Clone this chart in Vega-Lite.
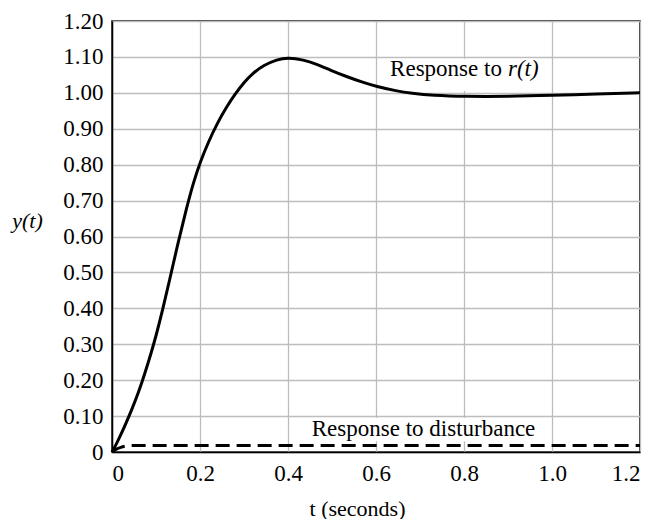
{
  "$schema": "https://vega.github.io/schema/vega-lite/v6.json",
  "width": 528,
  "height": 431,
  "autosize": "none",
  "padding": {"left": 112, "top": 21, "right": 18, "bottom": 67},
  "background": "white",
  "config": {
    "view": {"stroke": "black", "strokeWidth": 1.5},
    "font": "Liberation Serif",
    "axis": {
      "labelFont": "Liberation Serif",
      "titleFont": "Liberation Serif",
      "labelFontSize": 23,
      "titleFontSize": 22,
      "labelColor": "black",
      "titleColor": "black",
      "titleFontWeight": "normal",
      "domainColor": "black",
      "domainWidth": 1.5,
      "ticks": false,
      "labelOverlap": false,
      "gridColor": "#bdbdbd",
      "gridWidth": 1.3,
      "gridOpacity": 1
    },
    "axisY": {"labelOverlap": false, "tickCount": 13}
  },
  "datasets": {
    "resp": [
      {"t": 0, "y": 0},
      {"t": 0.01, "y": 0.022},
      {"t": 0.02, "y": 0.048},
      {"t": 0.03, "y": 0.075},
      {"t": 0.045, "y": 0.118},
      {"t": 0.06, "y": 0.165},
      {"t": 0.075, "y": 0.22},
      {"t": 0.09, "y": 0.28},
      {"t": 0.1, "y": 0.323},
      {"t": 0.115, "y": 0.395},
      {"t": 0.13, "y": 0.474},
      {"t": 0.15, "y": 0.582},
      {"t": 0.17, "y": 0.682},
      {"t": 0.185, "y": 0.75},
      {"t": 0.2, "y": 0.806},
      {"t": 0.22, "y": 0.866},
      {"t": 0.24, "y": 0.917},
      {"t": 0.26, "y": 0.96},
      {"t": 0.28, "y": 0.997},
      {"t": 0.3, "y": 1.029},
      {"t": 0.32, "y": 1.055},
      {"t": 0.345, "y": 1.077},
      {"t": 0.375, "y": 1.093},
      {"t": 0.4, "y": 1.098},
      {"t": 0.435, "y": 1.092},
      {"t": 0.465, "y": 1.08},
      {"t": 0.495, "y": 1.064},
      {"t": 0.533, "y": 1.045},
      {"t": 0.571, "y": 1.029},
      {"t": 0.6, "y": 1.018},
      {"t": 0.647, "y": 1.005},
      {"t": 0.68, "y": 0.999},
      {"t": 0.73, "y": 0.993},
      {"t": 0.8, "y": 0.99},
      {"t": 0.9, "y": 0.99},
      {"t": 1.0, "y": 0.993},
      {"t": 1.1, "y": 0.997},
      {"t": 1.2, "y": 1.0}
    ],
    "dist": [
      {"t": 0, "y": 0},
      {"t": 0.01, "y": 0.008},
      {"t": 0.02, "y": 0.013},
      {"t": 0.03, "y": 0.016},
      {"t": 0.05, "y": 0.018},
      {"t": 0.1, "y": 0.018},
      {"t": 0.6, "y": 0.018},
      {"t": 1.2, "y": 0.018}
    ],
    "boxes": [
      {"t1": 0.625, "t2": 0.975, "y1": 1.005, "y2": 1.095},
      {"t1": 0.445, "t2": 0.97, "y1": 0.03, "y2": 0.095}
    ],
    "labels": [
      {"t": 0.632, "y": 1.047, "text": "Response to"},
      {"t": 0.454, "y": 0.0445, "text": "Response to disturbance"}
    ],
    "italicLabels": [
      {"t": 0.9, "y": 1.047, "text": "r(t)"}
    ]
  },
  "encoding": {
    "x": {
      "field": "t", "type": "quantitative",
      "scale": {"domain": [0, 1.2], "nice": false, "zero": false},
      "axis": {
        "values": [0, 0.2, 0.4, 0.6, 0.8, 1.0, 1.2],
        "labelExpr": "datum.value == 0 ? '0' : format(datum.value, '.1f')",
        "labelPadding": 10,
        "labelOverlap": false,
        "title": "t (seconds)",
        "titleX": 245,
        "titleY": 56,
        "titleBaseline": "middle",
        "titleAlign": "center"
      }
    },
    "y": {
      "field": "y", "type": "quantitative",
      "scale": {"domain": [0, 1.2], "nice": false},
      "axis": {
        "values": [0, 0.1, 0.2, 0.3, 0.4, 0.5, 0.6, 0.7, 0.8, 0.9, 1.0, 1.1, 1.2],
        "labelExpr": "datum.value == 0 ? '0' : format(datum.value, '.2f')",
        "labelPadding": 9,
        "labelOverlap": false,
        "labelSeparation": 0,
        "title": "y(t)",
        "titleFontStyle": "italic",
        "titleAngle": 0,
        "titleX": -85,
        "titleY": 199,
        "titleAlign": "center",
        "titleBaseline": "middle"
      }
    }
  },
  "layer": [
    {
      "data": {"name": "boxes"},
      "mark": {"type": "rect", "color": "white"},
      "encoding": {
        "x": {"field": "t1", "type": "quantitative"},
        "x2": {"field": "t2"},
        "y": {"field": "y1", "type": "quantitative"},
        "y2": {"field": "y2"}
      }
    },
    {
      "data": {"name": "resp"},
      "mark": {"type": "line", "color": "black", "strokeWidth": 3, "interpolate": "basis"}
    },
    {
      "data": {"name": "dist"},
      "mark": {"type": "line", "color": "black", "strokeWidth": 3, "strokeDash": [14, 7], "interpolate": "monotone"}
    },
    {
      "data": {"name": "labels"},
      "mark": {"type": "text", "align": "left", "baseline": "alphabetic", "fontSize": 23, "font": "Liberation Serif", "color": "black"},
      "encoding": {
        "text": {"field": "text"}
      }
    },
    {
      "data": {"name": "italicLabels"},
      "mark": {"type": "text", "align": "left", "baseline": "alphabetic", "fontSize": 23, "font": "Liberation Serif", "fontStyle": "italic", "color": "black"},
      "encoding": {
        "text": {"field": "text"}
      }
    }
  ]
}
